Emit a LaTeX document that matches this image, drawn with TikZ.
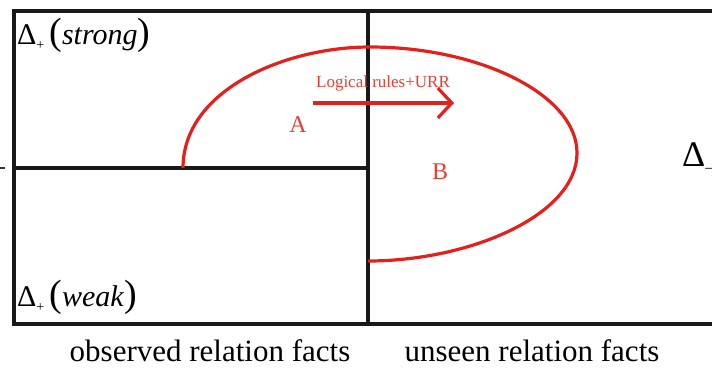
\documentclass[tikz,border=0pt]{standalone}
\usepackage{fontspec}
\setmainfont{Liberation Serif}
\usetikzlibrary{arrows.meta}
\definecolor{cred}{RGB}{228,32,28}
\definecolor{tred}{RGB}{232,62,50}
\begin{document}
\begin{tikzpicture}[x=1pt,y=-1pt,
  frame/.style={draw=black!90,line width=3.2pt},
  redline/.style={draw=cred,line width=3.2pt},
  lbl/.style={inner sep=0pt,anchor=base west,font=\fontsize{30}{32}\selectfont},
  captext/.style={inner sep=0pt,anchor=base,font=\fontsize{31}{35}\selectfont},
  letter/.style={inner sep=0pt,text=tred,font=\fontsize{24}{28}\selectfont}]
\useasboundingbox (0,0) rectangle (712,367);
% frame
\coordinate (TL) at (14,11);
\coordinate (BR) at (740,324);
\coordinate (MT) at (368,11);
\coordinate (MB) at (368,324);
\coordinate (HL) at (14,168);
\coordinate (HR) at (368,168);
\draw[frame] (TL) rectangle (BR);
\draw[frame] (MT) -- (MB);
\draw[frame] (HL) -- (HR);
\coordinate (tickA) at (-4,168);
\coordinate (tickB) at (5,168);
\draw[line width=1.8pt,black!80] (tickA) -- (tickB);
% red region
\coordinate (c0) at (183,168);
\coordinate (c1) at (370,47);
\coordinate (c2) at (577,153);
\coordinate (c3) at (368,261);
\draw[redline] (c0) .. controls (183,90) and (285,47) .. (c1)
  .. controls (480,47) and (577,95) .. (c2)
  .. controls (577,215) and (470,261) .. (c3);
% arrow
\coordinate (arrS) at (313,103);
\coordinate (arrE) at (454,103);
\draw[redline,-{Straight Barb[length=14pt,width=30pt,line width=3.2pt]}] (arrS) -- (arrE);
\node[inner sep=0pt,text=tred,font=\fontsize{17}{20}\selectfont] (rule) at (383,83) {Logical rules+URR};
% letters
\node[letter] (A) at (298,125) {A};
\node[letter] (B) at (440,172) {B};
% labels
\node[lbl] (strong) at (17,44) {Δ\raisebox{-0.4ex}{\fontsize{14}{15}\selectfont +}\,{\fontsize{38}{40}\selectfont(}\textit{strong}{\fontsize{38}{40}\selectfont)}};
\node[lbl] (weak) at (17,306) {Δ\raisebox{-0.4ex}{\fontsize{14}{15}\selectfont +}\,{\fontsize{38}{40}\selectfont(}\textit{weak}{\fontsize{38}{40}\selectfont)}};
\node[inner sep=0pt,anchor=west,font=\fontsize{36}{40}\selectfont] (minus) at (682,158) {Δ\raisebox{-0.35ex}{\fontsize{16}{18}\selectfont –}};
\node[captext] (obs) at (210,361) {observed relation facts};
\node[captext] (uns) at (532,361) {unseen relation facts};
\end{tikzpicture}
\end{document}
